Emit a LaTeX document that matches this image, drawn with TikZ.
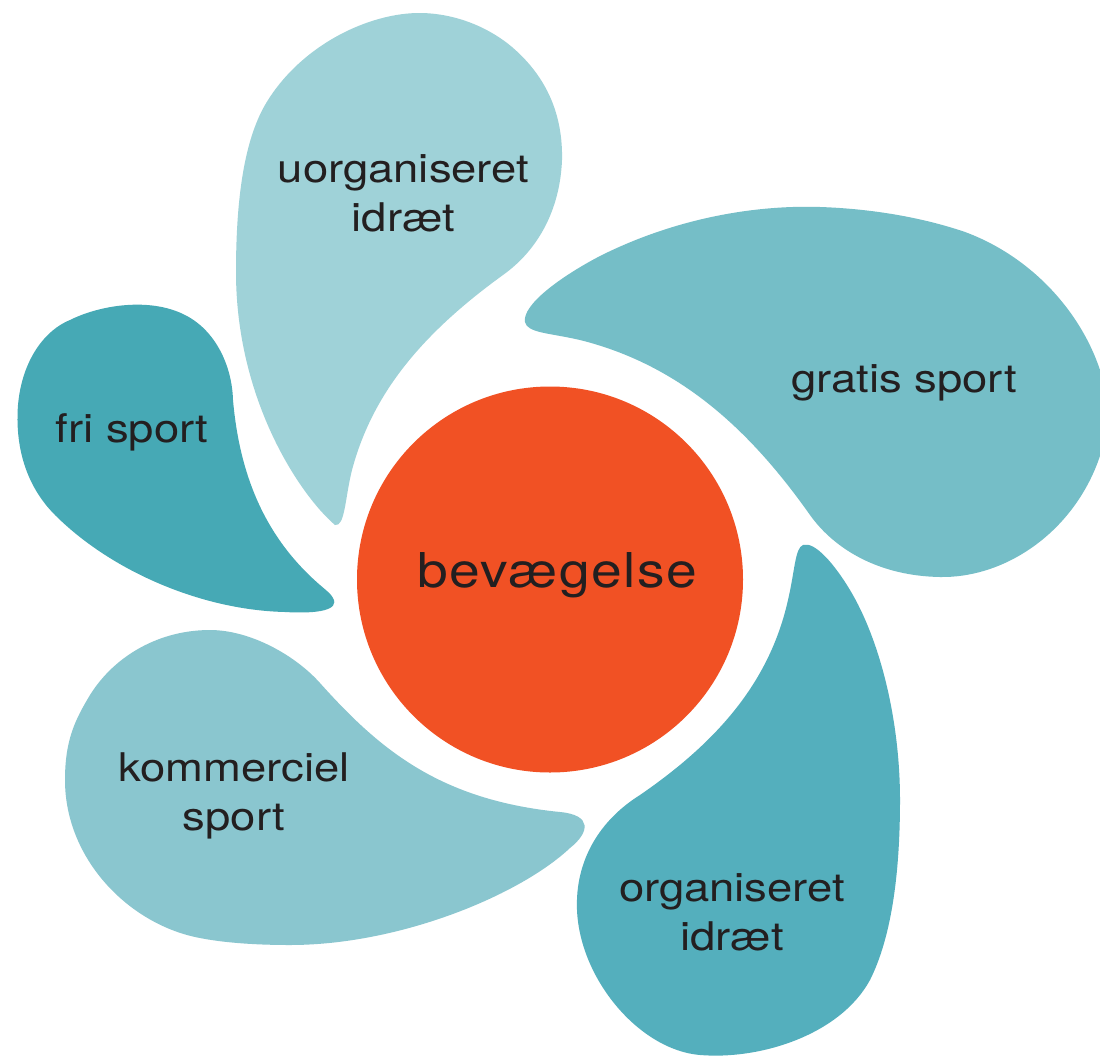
\documentclass[tikz,border=0pt]{standalone}
\usepackage{fontspec}
\setmainfont{TeX Gyre Heros}
\newfontfamily\lblfont[FakeStretch=1.15]{TeX Gyre Heros}
\newfontfamily\ctrfont[FakeStretch=1.15,LetterSpace=3]{TeX Gyre Heros}
\definecolor{cUorg}{HTML}{9FD2D8}
\definecolor{cFri}{HTML}{46A9B5}
\definecolor{cGratis}{HTML}{75BEC7}
\definecolor{cOrg}{HTML}{54AFBD}
\definecolor{cKomm}{HTML}{8AC6CF}
\definecolor{cCenter}{HTML}{F15124}
\definecolor{txt}{HTML}{231F20}
\begin{document}
\begin{tikzpicture}[x=1pt,y=-1pt,
  lbl/.style={font=\lblfont\fontsize{39.5}{49}\selectfont, text=txt, align=center, inner sep=0pt, anchor=base},
  ctr/.style={font=\ctrfont\fontsize{48}{56}\selectfont, text=txt, inner sep=0pt, anchor=base}]
\clip (0,0) rectangle (1100,1055);
\fill[white] (0,0) rectangle (1100,1055);
% uorganiseret idraet
\fill[cUorg] (335,525) .. controls (300,495) and (236,400) .. (236,272)
  .. controls (236,195) and (245,140) .. (265,105)
  .. controls (300,45) and (370,12) .. (422,13)
  .. controls (460,14) and (492,30) .. (512,47)
  .. controls (547,77) and (563,115) .. (562,160)
  .. controls (560,210) and (538,250) .. (503,275)
  .. controls (420,335) and (372,395) .. (352,470)
  .. controls (345,498) and (345,527) .. (335,525) -- cycle;
% fri sport
\fill[cFri] (333,598) .. controls (340,610) and (318,614) .. (285,612)
  .. controls (200,610) and (110,570) .. (55,515)
  .. controls (25,485) and (15,445) .. (18,405)
  .. controls (22,360) and (45,330) .. (70,320)
  .. controls (100,305) and (150,297) .. (185,315)
  .. controls (215,330) and (232,365) .. (233,400)
  .. controls (240,480) and (268,540) .. (320,585)
  .. controls (327,591) and (331,594) .. (333,598) -- cycle;
% gratis sport
\fill[cGratis] (525,322) .. controls (522,305) and (560,277) .. (600,256)
  .. controls (680,216) and (760,205) .. (820,207)
  .. controls (880,209) and (930,220) .. (965,232)
  .. controls (1030,256) and (1080,310) .. (1100,370)
  .. controls (1115,410) and (1105,450) .. (1090,480)
  .. controls (1060,540) and (1000,578) .. (940,577)
  .. controls (880,576) and (835,550) .. (810,515)
  .. controls (750,430) and (680,365) .. (580,340)
  .. controls (550,333) and (527,333) .. (525,322) -- cycle;
% organiseret idraet
\fill[cOrg] (803,545) .. controls (815,541) and (835,565) .. (850,590)
  .. controls (880,640) and (900,720) .. (900,800)
  .. controls (900,880) and (890,940) .. (870,980)
  .. controls (840,1035) and (760,1060) .. (700,1055)
  .. controls (640,1050) and (580,980) .. (577,910)
  .. controls (575,860) and (600,820) .. (640,795)
  .. controls (720,740) and (770,680) .. (788,600)
  .. controls (795,570) and (795,548) .. (803,545) -- cycle;
% kommerciel sport
\fill[cKomm] (210,630) .. controls (250,630) and (295,655) .. (320,683)
  .. controls (380,750) and (440,800) .. (560,812)
  .. controls (592,815) and (590,832) .. (570,848)
  .. controls (520,895) and (400,945) .. (290,945)
  .. controls (250,945) and (220,942) .. (200,938)
  .. controls (130,925) and (65,860) .. (65,780)
  .. controls (65,740) and (75,720) .. (90,695)
  .. controls (115,655) and (160,630) .. (210,630) -- cycle;
% centre
\fill[cCenter] (550,579.5) circle[radius=193];
\node[ctr] (center) at (557,587) {bevægelse};
\node[lbl] (uorg) at (403.5,231) {uorganiseret\\idræt};
\node[lbl] (fri) at (132,442) {fri sport};
\node[lbl] (gratis) at (904,392) {gratis sport};
\node[lbl] (komm) at (234,830) {kommerciel\\sport};
\node[lbl] (org) at (732,950) {organiseret\\idræt};
\end{tikzpicture}
\end{document}
